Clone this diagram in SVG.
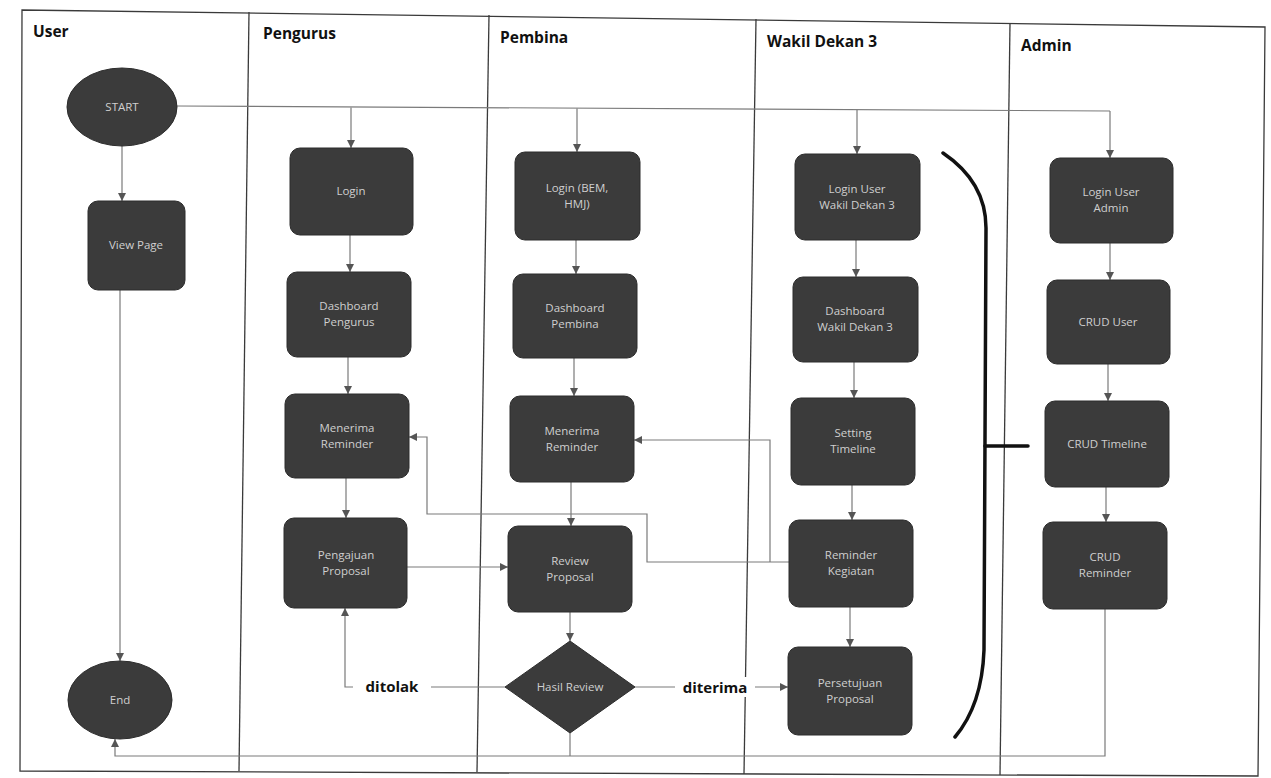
<svg xmlns="http://www.w3.org/2000/svg" width="1271" height="778" viewBox="0 0 1271 778">
<style>
  .lane{stroke:#3a3a3a;stroke-width:1.3;fill:none}
  .hdr{font-family:"Open Sans","Liberation Sans",sans-serif;font-weight:bold;font-size:15.5px;fill:#111}
  .box{fill:#3b3b3b;stroke:#2c2c2c;stroke-width:1}
  .lbl{font-family:"Open Sans","Liberation Sans",sans-serif;font-size:11.5px;fill:#cfcfcf;text-anchor:middle}
  .conn{stroke:#7a7a7a;stroke-width:1.2;fill:none}
  .arr{marker-end:url(#ah)}
  .elbl{font-family:"Open Sans","Liberation Sans",sans-serif;font-weight:bold;font-size:15px;fill:#111;text-anchor:middle}
  .brace{stroke:#111;stroke-width:3.5;fill:none;stroke-linecap:round}
</style>
<defs>
  <marker id="ah" markerUnits="userSpaceOnUse" markerWidth="9" markerHeight="9" refX="8" refY="4" orient="auto">
    <path d="M0,0 L8,4 L0,8 z" fill="#555"/>
  </marker>
</defs>
<rect x="0" y="0" width="1271" height="778" fill="#ffffff"/>

<g id="lanes">
  <path class="lane" d="M22,10 L1265,27 L1258,776 L20,771 Z"/>
  <line class="lane" x1="249" y1="12" x2="239" y2="771"/>
  <line class="lane" x1="489" y1="15" x2="477" y2="772"/>
  <line class="lane" x1="756" y1="19" x2="744" y2="774"/>
  <line class="lane" x1="1010" y1="23" x2="1000" y2="775"/>
  <text class="hdr" x="33" y="37">User</text>
  <text class="hdr" x="263" y="39">Pengurus</text>
  <text class="hdr" x="500" y="43">Pembina</text>
  <text class="hdr" x="767" y="47">Wakil Dekan 3</text>
  <text class="hdr" x="1021" y="51">Admin</text>
</g>

<g id="connectors">
  <!-- START fan-out -->
  <path class="conn" d="M177,106 L1110,111"/>
  <path class="conn arr" d="M351,107.5 V148"/>
  <path class="conn arr" d="M577,108.5 V152"/>
  <path class="conn arr" d="M857,110 V154"/>
  <path class="conn arr" d="M1110,111 V158"/>
  <!-- User -->
  <path class="conn arr" d="M122,146 V201"/>
  <path class="conn arr" d="M120,290 V661"/>
  <!-- Pengurus -->
  <path class="conn arr" d="M350,235 V272"/>
  <path class="conn arr" d="M348,357 V394"/>
  <path class="conn arr" d="M346,478 V518"/>
  <!-- Pembina -->
  <path class="conn arr" d="M576,240 V274"/>
  <path class="conn arr" d="M574,358 V396"/>
  <path class="conn arr" d="M571,482 V526"/>
  <path class="conn arr" d="M570,612 V641"/>
  <!-- Wakil -->
  <path class="conn arr" d="M856,240 V277"/>
  <path class="conn arr" d="M854,362 V398"/>
  <path class="conn arr" d="M852,485 V520"/>
  <path class="conn arr" d="M850,607 V647"/>
  <!-- Admin -->
  <path class="conn arr" d="M1110,243 V280"/>
  <path class="conn arr" d="M1108,364 V401"/>
  <path class="conn arr" d="M1106,487 V522"/>
  <!-- cross-lane -->
  <path class="conn arr" d="M407,567 H508"/>
  <path class="conn arr" d="M789,562 H647 V514 H427 V437 H409"/>
  <path class="conn arr" d="M770,562 V440 H634"/>
  <path class="conn arr" d="M505,687 H345 V608"/>
  <path class="conn arr" d="M635,687 H788"/>
  <path class="conn arr" d="M1105,609 V756 H115 V739"/>
  <path class="conn" d="M570,733 V756"/>
  <!-- edge labels -->
  <rect x="353" y="677" width="78" height="20" fill="#ffffff"/>
  <text class="elbl" x="392" y="692">ditolak</text>
  <rect x="675" y="677" width="80" height="20" fill="#ffffff"/>
  <text class="elbl" x="715" y="693">diterima</text>
</g>

<g id="brace">
  <path class="brace" d="M943,153 Q986,182 986,228 L984,650 Q982,705 955,737"/>
  <path class="brace" d="M985,446 H1028"/>
</g>

<g id="start"><ellipse class="box" cx="122" cy="107" rx="55" ry="39"/><text class="lbl" x="122" y="111">START</text></g>
<g id="view-page"><rect class="box" x="88" y="201" width="97" height="89" rx="10"/><text class="lbl" x="136" y="249">View Page</text></g>
<g id="end"><ellipse class="box" cx="120" cy="700" rx="52" ry="39"/><text class="lbl" x="120" y="704">End</text></g>

<g id="p-login"><rect class="box" x="290" y="148" width="123" height="87" rx="10"/><text class="lbl" x="351" y="195">Login</text></g>
<g id="p-dashboard"><rect class="box" x="287" y="272" width="124" height="85" rx="10"/><text class="lbl" x="349" y="310">Dashboard</text><text class="lbl" x="349" y="326">Pengurus</text></g>
<g id="p-menerima"><rect class="box" x="285" y="394" width="124" height="84" rx="10"/><text class="lbl" x="347" y="432">Menerima</text><text class="lbl" x="347" y="448">Reminder</text></g>
<g id="p-pengajuan"><rect class="box" x="284" y="518" width="123" height="90" rx="10"/><text class="lbl" x="346" y="559">Pengajuan</text><text class="lbl" x="346" y="575">Proposal</text></g>

<g id="b-login"><rect class="box" x="515" y="152" width="125" height="88" rx="10"/><text class="lbl" x="577" y="192">Login (BEM,</text><text class="lbl" x="577" y="208">HMJ)</text></g>
<g id="b-dashboard"><rect class="box" x="513" y="274" width="124" height="84" rx="10"/><text class="lbl" x="575" y="312">Dashboard</text><text class="lbl" x="575" y="328">Pembina</text></g>
<g id="b-menerima"><rect class="box" x="510" y="396" width="124" height="86" rx="10"/><text class="lbl" x="572" y="435">Menerima</text><text class="lbl" x="572" y="451">Reminder</text></g>
<g id="b-review"><rect class="box" x="508" y="526" width="124" height="86" rx="10"/><text class="lbl" x="570" y="565">Review</text><text class="lbl" x="570" y="581">Proposal</text></g>
<g id="b-hasil"><polygon class="box" points="570,641 635,687 570,733 505,687"/><text class="lbl" x="570" y="691">Hasil Review</text></g>

<g id="w-login"><rect class="box" x="795" y="154" width="125" height="86" rx="10"/><text class="lbl" x="857" y="193">Login User</text><text class="lbl" x="857" y="209">Wakil Dekan 3</text></g>
<g id="w-dashboard"><rect class="box" x="793" y="277" width="125" height="85" rx="10"/><text class="lbl" x="855" y="315">Dashboard</text><text class="lbl" x="855" y="331">Wakil Dekan 3</text></g>
<g id="w-setting"><rect class="box" x="791" y="398" width="124" height="87" rx="10"/><text class="lbl" x="853" y="437">Setting</text><text class="lbl" x="853" y="453">Timeline</text></g>
<g id="w-reminder"><rect class="box" x="789" y="520" width="124" height="87" rx="10"/><text class="lbl" x="851" y="559">Reminder</text><text class="lbl" x="851" y="575">Kegiatan</text></g>
<g id="w-persetujuan"><rect class="box" x="788" y="647" width="124" height="88" rx="10"/><text class="lbl" x="850" y="687">Persetujuan</text><text class="lbl" x="850" y="703">Proposal</text></g>

<g id="a-login"><rect class="box" x="1050" y="158" width="123" height="85" rx="10"/><text class="lbl" x="1111" y="196">Login User</text><text class="lbl" x="1111" y="212">Admin</text></g>
<g id="a-user"><rect class="box" x="1047" y="280" width="123" height="84" rx="10"/><text class="lbl" x="1108" y="326">CRUD User</text></g>
<g id="a-timeline"><rect class="box" x="1045" y="401" width="124" height="86" rx="10"/><text class="lbl" x="1107" y="448">CRUD Timeline</text></g>
<g id="a-reminder"><rect class="box" x="1043" y="522" width="124" height="87" rx="10"/><text class="lbl" x="1105" y="561">CRUD</text><text class="lbl" x="1105" y="577">Reminder</text></g>
</svg>
